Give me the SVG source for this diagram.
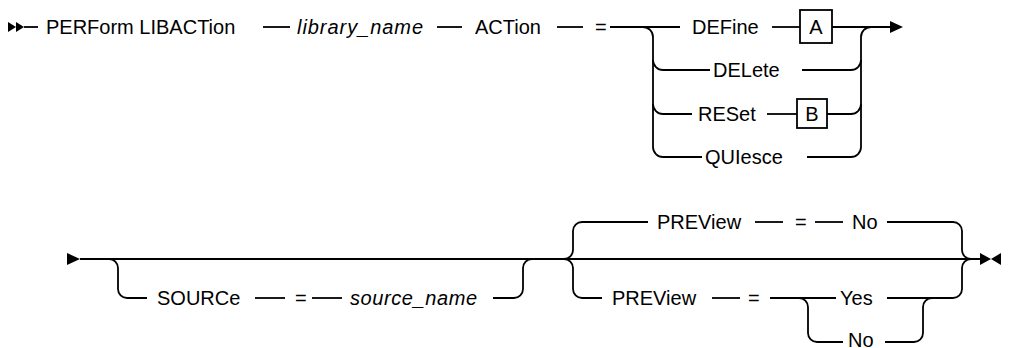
<svg xmlns="http://www.w3.org/2000/svg" width="1025" height="348" viewBox="0 0 1025 348">
<style>
text{font-family:"Liberation Sans",Arial,sans-serif;font-size:20px;fill:#000}
.it{font-style:italic}
.mid{text-anchor:middle}
.ln{fill:none;stroke:#000;stroke-width:1.8}
.box{fill:#fff;stroke:#000;stroke-width:1.8}
.mk{fill:#000}
</style>
<rect width="1025" height="348" fill="#fff"/>
<g id="connectors">
<!-- row 1 -->
<polygon class="mk" points="8,22 16,27 8,32"/>
<polygon class="mk" points="16,22 24,27 16,32"/>
<path class="ln" d="M24,27 H38"/>
<path class="ln" d="M263,27 H290"/>
<path class="ln" d="M437,27 H462"/>
<path class="ln" d="M557,27 H583"/>
<path class="ln" d="M610,27 H680"/>
<path class="ln" d="M643,27 A10,10 0 0 1 653,37 V147 A10,10 0 0 0 663,157 H702"/>
<path class="ln" d="M653,60 A10,10 0 0 0 663,70 H710"/>
<path class="ln" d="M653,104 A10,10 0 0 0 663,114 H692"/>
<path class="ln" d="M772,27 H800"/>
<path class="ln" d="M832,27 H891"/>
<path class="ln" d="M802,70 H851 A10,10 0 0 0 861,60"/>
<path class="ln" d="M767,114 H797"/>
<path class="ln" d="M827,114 H851 A10,10 0 0 0 861,104"/>
<path class="ln" d="M807,157 H851 A10,10 0 0 0 861,147 V37 A10,10 0 0 1 871,27"/>
<polygon class="mk" points="890,21 903,27 890,33"/>
<!-- row 2 -->
<polygon class="mk" points="67,253 80,259 67,265"/>
<path class="ln" d="M80,259 H980"/>
<path class="ln" d="M109,259 A9,9 0 0 1 118,268 V289 A9,9 0 0 0 127,298 H147"/>
<path class="ln" d="M255,298 H285"/>
<path class="ln" d="M312,298 H342"/>
<path class="ln" d="M493,298 H514 A9,9 0 0 0 523,289 V268 A9,9 0 0 1 532,259"/>
<path class="ln" d="M564,259 A9,9 0 0 0 573,250 V231 A9,9 0 0 1 582,222 H648"/>
<path class="ln" d="M564,259 A9,9 0 0 1 573,268 V289 A9,9 0 0 0 582,298 H602"/>
<path class="ln" d="M755,222 H783"/>
<path class="ln" d="M815,222 H843"/>
<path class="ln" d="M887,222 H953 A9,9 0 0 1 962,231 V250 A9,9 0 0 0 971,259"/>
<path class="ln" d="M712,298 H740"/>
<path class="ln" d="M770,298 H836"/>
<path class="ln" d="M887,298 H953 A9,9 0 0 0 962,289 V268 A9,9 0 0 1 971,259"/>
<path class="ln" d="M799,298 A9,9 0 0 1 808,307 V333 A9,9 0 0 0 817,342 H843"/>
<path class="ln" d="M885,342 H914 A9,9 0 0 0 923,333 V307 A9,9 0 0 1 932,298"/>
<polygon class="mk" points="980,253 991,259 980,265"/>
<polygon class="mk" points="1001,253 991,259 1001,265"/>
</g>
<g id="n-perform"><text x="46" y="34">PERForm LIBACTion</text></g>
<g id="n-library"><text class="it" x="297" y="34" textLength="126">library_name</text></g>
<g id="n-action"><text x="475" y="34">ACTion</text></g>
<g id="n-eq1"><text x="595" y="34">=</text></g>
<g id="n-define"><text x="692" y="34">DEFine</text></g>
<g id="n-boxA"><rect class="box" x="800" y="10" width="32" height="33"/><text class="mid" x="816" y="34">A</text></g>
<g id="n-delete"><text x="713" y="77">DELete</text></g>
<g id="n-reset"><text x="698" y="121">RESet</text></g>
<g id="n-boxB"><rect class="box" x="797" y="99" width="30" height="29"/><text class="mid" x="812" y="121">B</text></g>
<g id="n-quiesce"><text x="705" y="164">QUIesce</text></g>
<g id="n-source"><text x="157" y="305">SOURCe</text></g>
<g id="n-eq2"><text x="295" y="305">=</text></g>
<g id="n-sourcename"><text class="it" x="350" y="305" textLength="127">source_name</text></g>
<g id="n-preview1"><text x="657" y="229">PREView</text></g>
<g id="n-eq3"><text x="795" y="229">=</text></g>
<g id="n-no1"><text x="852" y="229">No</text></g>
<g id="n-preview2"><text x="612" y="305">PREView</text></g>
<g id="n-eq4"><text x="748" y="305">=</text></g>
<g id="n-yes"><text x="840" y="305">Yes</text></g>
<g id="n-no2"><text x="848" y="347">No</text></g>
</svg>
